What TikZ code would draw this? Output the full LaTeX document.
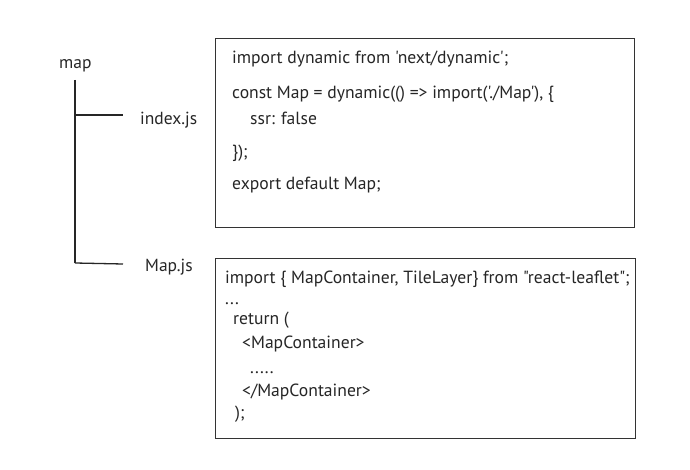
\documentclass[tikz,border=0pt]{standalone}
\usepackage{fontspec}
\setmainfont{PT Sans}[Ligatures=TeXOff]
\begin{document}
\begin{tikzpicture}[x=1pt,y=-1pt,
  lbl/.style={anchor=base west,inner sep=0pt,font=\fontsize{17.5}{20}\selectfont,text=black!85},
  code/.style={anchor=base west,inner sep=0pt,font=\fontsize{17.6}{20}\selectfont,text=black!85},
  codebox/.style={draw=black!80,line width=1.2pt},
  branch/.style={draw=black!85,line width=1.3pt}]
\useasboundingbox[fill=white] (0,0) rectangle (690,470);
% tree
\node[lbl] (map) at (59,69) {map};
\node[lbl] (idx) at (140,125) {index.js};
\node[lbl] (mapjs) at (145,271) {Map.js};
\coordinate (top) at (75,80);
\coordinate (b1) at (75,115);
\coordinate (b2) at (75,263);
\coordinate (e1) at (123,115);
\coordinate (e2) at (123,264);
\draw[branch] (top) -- (b2);
\draw[branch] (b1) -- (e1);
\draw[branch] (b2) -- (e2);
% box 1
\node[codebox,minimum width=419,minimum height=189,anchor=north west,inner sep=0pt] (box1) at (215,38) {};
\node[code] (l1) at (232,64) {import dynamic from 'next/dynamic';};
\node[code] (l2) at (232,99) {const Map = dynamic(() => import('./Map'), \{};
\node[code] (l3) at (250,125) {ssr: false};
\node[code] (l4) at (232,158) {\});};
\node[code] (l5) at (232,190) {export default Map;};
% box 2
\node[codebox,minimum width=420,minimum height=180,anchor=north west,inner sep=0pt] (box2) at (215,258) {};
\node[code] (m1) at (225,283) {import \{ MapContainer, TileLayer\} from "react-leaflet";};
\node[code] (m2) at (225,304) {...};
\node[code] (m3) at (233,324) {return (};
\node[code] (m4) at (242,348) {<MapContainer>};
\node[code] (m5) at (250,373) {.....};
\node[code] (m6) at (242,396) {</MapContainer>};
\node[code] (m7) at (235,418) {);};
\end{tikzpicture}
\end{document}
